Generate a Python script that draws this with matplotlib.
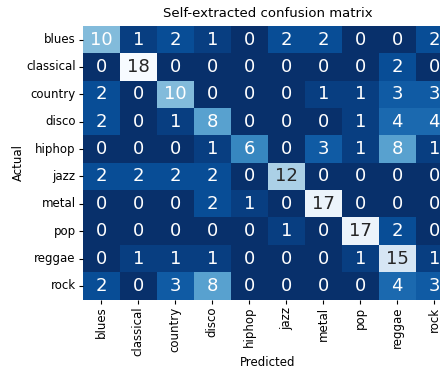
import numpy as np
import matplotlib
matplotlib.use("Agg")
import matplotlib.pyplot as plt
import seaborn as sns

genres = ["blues", "classical", "country", "disco", "hiphop",
          "jazz", "metal", "pop", "reggae", "rock"]

# rows = actual, cols = predicted
conf = np.array([
    [10, 1, 2, 1, 0, 2, 2, 0, 0, 2],
    [0, 18, 0, 0, 0, 0, 0, 0, 2, 0],
    [2, 0, 10, 0, 0, 0, 1, 1, 3, 3],
    [2, 0, 1, 8, 0, 0, 0, 1, 4, 4],
    [0, 0, 0, 1, 6, 0, 3, 1, 8, 1],
    [2, 2, 2, 2, 0, 12, 0, 0, 0, 0],
    [0, 0, 0, 2, 1, 0, 17, 0, 0, 0],
    [0, 0, 0, 0, 0, 1, 0, 17, 2, 0],
    [0, 1, 1, 1, 0, 0, 0, 1, 15, 1],
    [2, 0, 3, 8, 0, 0, 0, 0, 4, 3],
])

fig = plt.figure(figsize=(4.4, 3.69), dpi=100)
ax = fig.add_axes([0.188, 0.188, 0.841, 0.742])

sns.heatmap(conf, annot=True, fmt="d", cmap="Blues_r", cbar=False,
            xticklabels=genres, yticklabels=genres, ax=ax,
            annot_kws={"size": 13})

# light cells get dark text, the rest white
for t in ax.texts:
    t.set_color("#262626" if int(t.get_text()) >= 12 else "white")

ax.set_title("Self-extracted confusion matrix", fontsize=9.5)
ax.set_xlabel("Predicted", fontsize=8.5, labelpad=0)
ax.set_ylabel("Actual", fontsize=8.5, labelpad=1)
ax.tick_params(labelsize=8.5, length=3, pad=2)
plt.setp(ax.get_xticklabels(), rotation=90)
plt.setp(ax.get_yticklabels(), rotation=0)

fig.savefig("out.png", dpi=100)
